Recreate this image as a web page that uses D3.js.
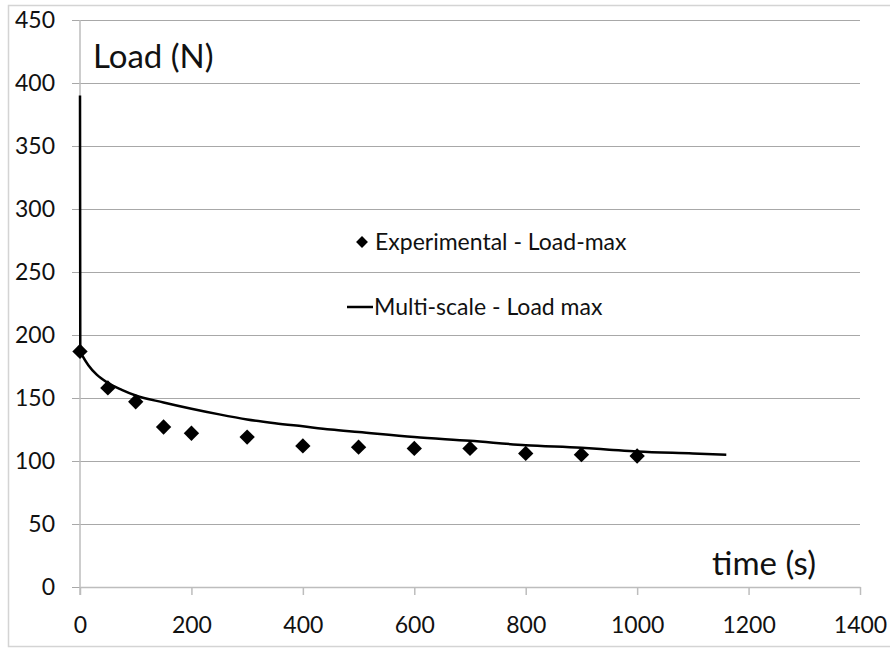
<!DOCTYPE html>
<html>
<head>
<meta charset="utf-8">
<script src="https://cdn.jsdelivr.net/npm/d3@7"></script>
<style>
  body { margin: 0; background: #fff; }
  svg { display: block; font-family: Lato, "Open Sans", sans-serif; }
</style>
</head>
<body>
<svg id="chart"></svg>
<script>
// experimental maxima (time s, load N)
const expTime = [0, 50, 100, 150, 200, 300, 400, 500, 600, 700, 800, 900, 1000];
const expLoad = [187, 158, 147, 127, 122, 119, 112, 111, 110, 110, 106, 105, 104];

// multi-scale model curve
const modelTime = [0, 0.5, 5, 15, 30, 50, 75, 100, 150, 200, 250, 300, 350, 400, 450, 500, 600, 700, 800, 900, 950, 1000, 1100, 1160];
const modelLoad = [390, 187, 183, 176, 168.5, 162, 156.5, 152, 146.5, 141.5, 137, 133, 130, 127.5, 125, 123, 119, 116, 112.5, 110.5, 109, 107.5, 106, 105];

const xTicks = [0, 200, 400, 600, 800, 1000, 1200, 1400];
const yTicks = [0, 50, 100, 150, 200, 250, 300, 350, 400, 450];

class LoadChart {

  constructor(_config) {
    this.config = {
      parentElement: _config.parentElement,
      containerWidth: 890,
      containerHeight: 650,
      margin: {top: 20, right: 30, bottom: 63, left: 80}
    }
    this.initVis();
  }

  initVis() {
    let vis = this;
    const m = vis.config.margin;
    vis.width = vis.config.containerWidth - m.left - m.right;
    vis.height = vis.config.containerHeight - m.top - m.bottom;

    vis.svg = d3.select(vis.config.parentElement)
        .attr('width', vis.config.containerWidth)
        .attr('height', vis.config.containerHeight);

    // light frame round the whole chart
    vis.svg.append('rect')
        .attr('x', 8.5).attr('y', 5.5)
        .attr('width', 900).attr('height', 641)
        .attr('fill', 'none')
        .attr('stroke', '#d4d4d4')
        .attr('stroke-width', 1.5);

    vis.chart = vis.svg.append('g')
        .attr('transform', `translate(${m.left},${m.top})`);

    vis.xScale = d3.scaleLinear().domain([0, 1400]).range([0, vis.width]);
    vis.yScale = d3.scaleLinear().domain([0, 450]).range([vis.height, 0]);

    vis.updateVis();
  }

  updateVis() {
    let vis = this;
    vis.expData = expTime.map((t, i) => ({t: t, v: expLoad[i]}));
    vis.modelData = modelTime.map((t, i) => ({t: t, v: modelLoad[i]}));
    vis.renderVis();
  }

  renderVis() {
    let vis = this;

    // horizontal gridlines + y axis
    const yAxis = d3.axisLeft(vis.yScale)
        .tickValues(yTicks)
        .tickFormat(d3.format('d'))
        .tickSize(-vis.width - 8)
        .tickSizeOuter(0);

    const yG = vis.chart.append('g').call(yAxis);
    yG.select('.domain').remove();
    yG.selectAll('.tick line')
        .attr('x1', -8)
        .attr('x2', vis.width)
        .attr('stroke', '#a8a8a8')
        .attr('stroke-width', 1.2);
    yG.selectAll('.tick text')
        .attr('x', -25)
        .attr('font-size', 23)
        .attr('fill', '#111')
        .attr('font-family', 'Lato, sans-serif');

    // x axis
    const xAxis = d3.axisBottom(vis.xScale)
        .tickValues(xTicks)
        .tickFormat(d3.format('d'))
        .tickSize(8)
        .tickSizeOuter(0)
        .tickPadding(22);

    const xG = vis.chart.append('g')
        .attr('transform', `translate(0,${vis.height})`)
        .call(xAxis);
    xG.select('.domain').attr('stroke', '#bdbdbd').attr('stroke-width', 1.5);
    xG.selectAll('.tick line').attr('stroke', '#bdbdbd').attr('stroke-width', 1.5);
    xG.selectAll('.tick text')
        .attr('font-size', 23)
        .attr('fill', '#111')
        .attr('font-family', 'Lato, sans-serif');

    // vertical axis line
    vis.chart.append('line')
        .attr('x1', 0).attr('x2', 0)
        .attr('y1', 0).attr('y2', vis.height + 8)
        .attr('stroke', '#bdbdbd')
        .attr('stroke-width', 1.5);

    // model line
    const line = d3.line()
        .x(d => vis.xScale(d.t))
        .y(d => vis.yScale(d.v))
        .curve(d3.curveMonotoneX);

    vis.chart.append('path')
        .datum(vis.modelData)
        .attr('d', line)
        .attr('fill', 'none')
        .attr('stroke', '#000')
        .attr('stroke-width', 2.5);

    // experimental diamonds
    const diamond = d3.symbol().type(d3.symbolDiamond2).size(150);
    vis.chart.selectAll('.exp')
        .data(vis.expData)
      .join('path')
        .attr('class', 'exp')
        .attr('d', diamond)
        .attr('transform', d => `translate(${vis.xScale(d.t)},${vis.yScale(d.v)})`)
        .attr('fill', '#000');

    // axis titles
    vis.svg.append('text')
        .attr('x', 93).attr('y', 68)
        .attr('font-size', 33)
        .attr('fill', '#111')
        .text('Load (N)');

    vis.svg.append('text')
        .attr('x', 816).attr('y', 575)
        .attr('text-anchor', 'end')
        .attr('font-size', 33)
        .attr('fill', '#111')
        .text('time (s)');

    // legend
    const leg = vis.svg.append('g');
    leg.append('path')
        .attr('d', d3.symbol().type(d3.symbolDiamond2).size(90))
        .attr('transform', 'translate(362,242)')
        .attr('fill', '#000');
    leg.append('text')
        .attr('x', 375).attr('y', 242)
        .attr('dy', '0.35em')
        .attr('font-size', 23)
        .attr('fill', '#111')
        .text('Experimental - Load-max');
    leg.append('line')
        .attr('x1', 347).attr('x2', 373)
        .attr('y1', 307).attr('y2', 307)
        .attr('stroke', '#000')
        .attr('stroke-width', 2.5);
    leg.append('text')
        .attr('x', 374).attr('y', 307)
        .attr('dy', '0.35em')
        .attr('font-size', 23)
        .attr('fill', '#111')
        .text('Multi-scale - Load max');
  }
}

new LoadChart({parentElement: '#chart'});
</script>
</body>
</html>
